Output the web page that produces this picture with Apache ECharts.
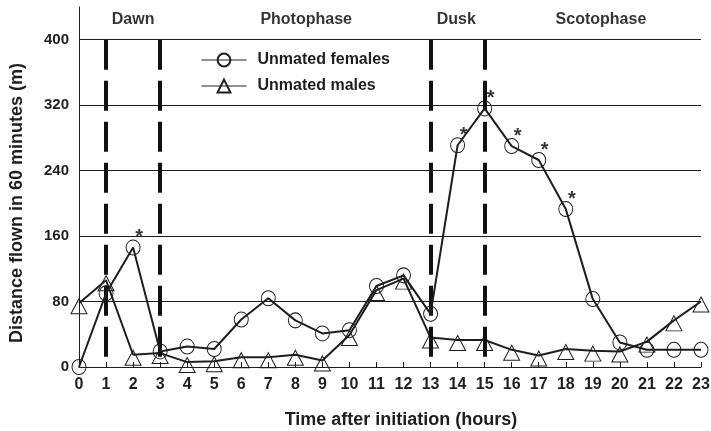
<!DOCTYPE html>
<html>
<head>
<meta charset="utf-8">
<script src="https://cdn.jsdelivr.net/npm/echarts@6/dist/echarts.min.js"></script>
<style>
  html, body { margin: 0; padding: 0; background: #fff; }
  #chart { width: 711px; height: 431px; }
</style>
</head>
<body>
<div id="chart"></div>
<script>
// hours after initiation
var hours = [0, 1, 2, 3, 4, 5, 6, 7, 8, 9, 10, 11, 12, 13, 14, 15, 16, 17, 18, 19, 20, 21, 22, 23];
// distance flown in 60 minutes (m)
var females = [0, 90, 146, 19, 25, 22, 58, 84, 57, 41, 45, 99, 112, 65, 271, 316, 270, 253, 193, 83, 30, 21, 21, 21];
var males = [78, 106, 15, 17, 6, 7, 12, 12, 15, 8, 39, 94, 108, 36, 33, 33, 21, 14, 22, 20, 19, 31, 57, 80];
// hours where females differ significantly
var starHours = [2, 14, 15, 16, 17, 18];
// phase boundaries and labels
var phaseBounds = [1, 3, 13, 15];
var phaseNames = ['Dawn', 'Photophase', 'Dusk', 'Scotophase'];
var phaseCenters = [2, 8.4, 13.95, 19.3];
var yTicks = [80, 160, 240, 320, 400];

var font = 'Arial, "Liberation Sans", sans-serif';
var ink = '#1e1e1e';
var chart = echarts.init(document.getElementById('chart'));

function pairs(ys) {
    return hours.map(function (h, i) { return [h, ys[i]]; });
}

chart.setOption({
    animation: false,
    textStyle: { fontFamily: font },
    grid: { left: 79, right: 10, top: 7, bottom: 64, outerBoundsMode: 'none', containLabel: false },
    legend: {
        orient: 'vertical',
        left: 196,
        top: 47,
        itemWidth: 45,
        itemHeight: 16,
        itemGap: 10,
        lineStyle: { width: 1 },
        textStyle: { fontFamily: font, fontSize: 16, fontWeight: 'bold', color: ink, padding: [0, 0, 0, 6] },
        data: ['Unmated females', 'Unmated males']
    },
    xAxis: {
        type: 'value',
        min: 0,
        max: 23,
        interval: 1,
        name: 'Time after initiation (hours)',
        nameLocation: 'middle',
        nameGap: 44,
        nameTextStyle: { fontFamily: font, fontSize: 18, fontWeight: 'bold', color: ink, padding: [0, 0, 0, 22] },
        axisLine: { lineStyle: { color: ink, width: 1 } },
        axisTick: { inside: true, length: 5, lineStyle: { color: ink } },
        axisLabel: { fontFamily: font, fontSize: 16, fontWeight: 'bold', color: ink, margin: 10 },
        splitLine: { show: false }
    },
    yAxis: {
        type: 'value',
        min: 0,
        max: 440,
        interval: 80,
        name: 'Distance flown in 60 minutes (m)',
        nameLocation: 'middle',
        nameGap: 53,
        nameTextStyle: { fontFamily: font, fontSize: 18, fontWeight: 'bold', color: ink, padding: [0, 32, 0, 0] },
        axisLine: { show: true, lineStyle: { color: ink, width: 1 } },
        axisTick: { show: false },
        axisLabel: {
            fontFamily: font, fontSize: 15, fontWeight: 'bold', color: ink, margin: 10,
            formatter: function (v) { return v > 400 ? '' : v; }
        },
        splitLine: { show: false }
    },
    series: [
        {
            name: 'Unmated females',
            type: 'line',
            data: pairs(females),
            symbol: 'circle',
            symbolSize: [14, 15],
            itemStyle: { color: 'rgba(0,0,0,0)', borderColor: ink, borderWidth: 1 },
            lineStyle: { color: ink, width: 2 },
            z: 5,
            markLine: {
                silent: true,
                symbol: 'none',
                label: { show: false },
                lineStyle: { color: ink, width: 1, type: 'solid' },
                data: yTicks.map(function (v) { return { yAxis: v }; })
            }
        },
        {
            name: 'Unmated males',
            type: 'line',
            data: pairs(males),
            symbol: 'triangle',
            symbolSize: [16, 15],
            symbolOffset: [0, 3],
            itemStyle: { color: 'rgba(0,0,0,0)', borderColor: ink, borderWidth: 1 },
            lineStyle: { color: ink, width: 2 },
            z: 4,
            markLine: {
                silent: true,
                symbol: 'none',
                label: { show: false },
                lineStyle: { color: '#111', width: 4, type: [30, 11] },
                data: phaseBounds.map(function (b) {
                    return [{ coord: [b, 400] }, { coord: [b, 0] }];
                })
            }
        },
        {
            name: 'stars',
            type: 'scatter',
            symbol: 'circle',
            symbolSize: 0,
            itemStyle: { color: ink },
            silent: true,
            data: starHours.map(function (h) { return [h, females[h]]; }),
            label: {
                show: true,
                formatter: '*',
                position: 'top',
                distance: 0,
                offset: [6, 0],
                fontFamily: font,
                fontSize: 20,
                fontWeight: 'bold',
                color: '#000'
            }
        },
        {
            name: 'phases',
            type: 'scatter',
            symbol: 'circle',
            symbolSize: 0,
            itemStyle: { color: ink },
            silent: true,
            data: phaseNames.map(function (n, i) { return { name: n, value: [phaseCenters[i], 427] }; }),
            label: {
                show: true,
                formatter: '{b}',
                position: 'top',
                distance: 0,
                offset: [0, 10],
                fontFamily: font,
                fontSize: 16,
                fontWeight: 'bold',
                color: '#000'
            }
        }
    ]
});
</script>
</body>
</html>
